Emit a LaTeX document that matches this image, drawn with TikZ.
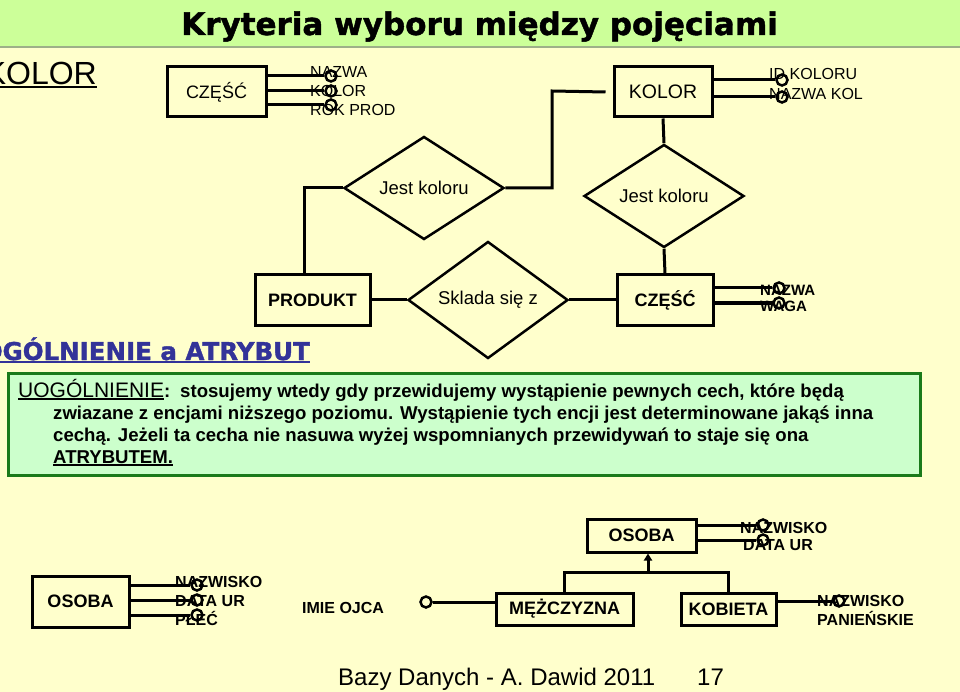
\documentclass[tikz,border=0pt]{standalone}
\usepackage{fontspec}
\setmainfont{Liberation Sans}
\newfontfamily\blackfont{DejaVu Sans}[BoldFeatures={FakeBold=1.5}]
\usetikzlibrary{shapes.geometric,arrows.meta}
\definecolor{bgyel}{HTML}{FFFFCC}
\definecolor{titlefill}{HTML}{CCFF99}
\definecolor{titlebd}{HTML}{9DB088}
\definecolor{headblue}{HTML}{333399}
\definecolor{boxfill}{HTML}{CCFFCC}
\definecolor{boxgreen}{HTML}{1A7A1A}
\newcommand\myul[1]{\setbox0\hbox{#1}\rlap{\rule[-3pt]{\wd0}{1.8pt}}\box0}
\tikzset{
  ent/.style={draw, line width=3pt, inner sep=0pt, font=\fontsize{18}{20}\selectfont\bfseries},
  entr/.style={ent, font=\fontsize{18}{20}\selectfont},
  dia/.style={diamond, draw, line width=2.5pt, inner sep=0pt, minimum width=160pt, minimum height=82pt, font=\fontsize{18.5}{20}\selectfont},
  con/.style={line width=3pt},
  attc/.style={circle, draw, line width=2.5pt, minimum size=11pt, inner sep=0pt},
  attr/.style={anchor=base west, inner sep=0pt, font=\fontsize{16}{18}\selectfont},
  attb/.style={anchor=base west, inner sep=0pt, font=\fontsize{16}{18}\selectfont\bfseries},
  attm/.style={anchor=base west, inner sep=0pt, font=\fontsize{15}{17}\selectfont\bfseries},
  body/.style={anchor=base west, inner sep=0pt, font=\fontsize{18.6}{21}\selectfont\bfseries},
}
\begin{document}
\begin{tikzpicture}[x=1pt,y=-1pt]
\useasboundingbox (0,0) rectangle (960,692);
\fill[bgyel] (0,0) rectangle (960,692);
% title bar
\draw[draw=titlebd, fill=titlefill, line width=1.5pt] (-2,-2) rectangle (962,47);
\node[anchor=base, inner sep=0pt, font=\blackfont\bfseries\fontsize{31}{36}\selectfont] (title) at (479.5,35) {Kryteria wyboru między pojęciami};
% left KOLOR
\node[anchor=base east, inner sep=0pt, font=\fontsize{32}{36}\selectfont] (kolL) at (97,85) {\myul{KOLOR}};

% top CZESC
\node[entr, minimum width=99pt, minimum height=50pt] (cz1) at (216.5,92) {CZĘŚĆ};
\node[attr] (t1) at (310,77.5) {NAZWA};
\node[attr] (t2) at (310,97) {KOLOR};
\node[attr] (t3) at (310,116) {ROK PROD};
\node[attc] (c1) at (331,76) {};
\node[attc] (c2) at (331,91) {};
\node[attc] (c3) at (331,105) {};
\draw[con] (c1 -| cz1.east) -- (c1.west);
\draw[con] (c2 -| cz1.east) -- (c2.west);
\draw[con] (c3 -| cz1.east) -- (c3.west);

% top KOLOR
\node[entr, minimum width=98pt, minimum height=50pt, font=\fontsize{19.5}{22}\selectfont] (ko1) at (663,92) {KOLOR};
\node[attr] (t4) at (769,80) {ID KOLORU};
\node[attr] (t5) at (769,100) {NAZWA KOL};
\node[attc] (c4) at (782,80) {};
\node[attc] (c5) at (782,97) {};
\draw[con] (c4 -| ko1.east) -- (c4.west);
\draw[con] (c5 -| ko1.east) -- (c5.west);

% diamonds
\node[dia] (d1) at (424,188) {Jest koloru};
\node[dia] (d2) at (664,196) {Jest koloru};
\node[dia, minimum height=83pt] (d3) at (488,300) {Sklada się z};

% middle entities
\node[ent, minimum width=115pt, minimum height=50pt] (prod) at (312.5,300) {PRODUKT};
\node[ent, minimum width=96pt, minimum height=50pt] (cz2) at (665,300) {CZĘŚĆ};
\node[attm] (t6) at (760,295.5) {NAZWA};
\node[attm] (t7) at (760,311) {WAGA};
\node[attc] (c6) at (779,288) {};
\node[attc] (c7) at (779,303) {};
\draw[con] (c6 -| cz2.east) -- (c6.west);
\draw[con] (c7 -| cz2.east) -- (c7.west);

% connectors
\coordinate (j1) at (552,91);
\draw[con] (d1.east) -| (j1) -- ([xshift=-7pt]ko1.west);
\draw[con] (d1.west) -| ([xshift=-8.5pt]prod.north);
\draw[con] (ko1.south) -- (d2.north);
\draw[con] (d2.south) -- (cz2.north);
\draw[con] (prod.east) -- (d3.west);
\draw[con] (d3.east) -- (cz2.west);

% heading
\node[anchor=base east, inner sep=0pt, text=headblue, font=\blackfont\bfseries\fontsize{24.5}{28}\selectfont] (head) at (310,360) {\myul{UOGÓLNIENIE a ATRYBUT}};

% green box
\draw[draw=boxgreen, fill=boxfill, line width=3pt] (8,373) rectangle (920,475);
\node[body] (l1) at (18,397) {{\mdseries\fontsize{21}{24}\selectfont\myul{UOGÓLNIENIE}}:\hspace{10pt}stosujemy wtedy gdy przewidujemy wystąpienie pewnych cech, które będą};
\node[body] (l2) at (53,419) {zwiazane z encjami niższego poziomu. Wystąpienie tych encji jest determinowane jakąś inna};
\node[body] (l3) at (53,441) {cechą. Jeżeli ta cecha nie nasuwa wyżej wspomnianych przewidywań to staje się ona};
\node[body] (l4) at (53,463) {\myul{ATRYBUTEM.}};

% bottom left OSOBA
\node[ent, minimum width=97pt, minimum height=51pt] (osL) at (80.5,601.5) {OSOBA};
\node[attb] (t8) at (175,587) {NAZWISKO};
\node[attb] (t9) at (175,606) {DATA UR};
\node[attb] (t10) at (175,625) {PŁEĆ};
\node[attc] (c8) at (197,585) {};
\node[attc] (c9) at (197,600) {};
\node[attc] (c10) at (197,615) {};
\draw[con] (c8 -| osL.east) -- (c8.west);
\draw[con] (c9 -| osL.east) -- (c9.west);
\draw[con] (c10 -| osL.east) -- (c10.west);

\node[attb] (imie) at (302,613) {IMIE OJCA};

% hierarchy
\node[ent, minimum width=109pt, minimum height=33pt] (osT) at (641.5,535.5) {OSOBA};
\node[ent, minimum width=137pt, minimum height=32pt] (mez) at (564.5,609) {MĘŻCZYZNA};
\node[ent, minimum width=95pt, minimum height=32pt] (kob) at (728.5,609) {KOBIETA};
\node[attc] (c11) at (426,602) {};
\draw[con] (c11.east) -- (c11 -| mez.west);

\node[attb] (t11) at (740,533) {NAZWISKO};
\node[attb] (t12) at (743,550) {DATA UR};
\node[attc] (c12) at (763,525) {};
\node[attc] (c13) at (763,540) {};
\draw[con] (c12 -| osT.east) -- (c12.west);
\draw[con] (c13 -| osT.east) -- (c13.west);

\coordinate (g) at (648,572);
\draw[con] (mez.north) |- (g) -| (kob.north);
\draw[con, -{Triangle[length=7pt,width=8pt]}] (g) -- (g |- osT.south);

\node[attb] (t13) at (817,606) {NAZWISKO};
\node[attb] (t14) at (817,625) {PANIEŃSKIE};
\node[attc] (c14) at (839,601) {};
\draw[con] (c14 -| kob.east) -- (c14.west);

% footer
\node[anchor=base west, inner sep=0pt, font=\fontsize{24}{28}\selectfont] (foot) at (338,685) {Bazy Danych - A. Dawid 2011};
\node[anchor=base west, inner sep=0pt, font=\fontsize{24}{28}\selectfont] (pg) at (697,685) {17};
\end{tikzpicture}
\end{document}
